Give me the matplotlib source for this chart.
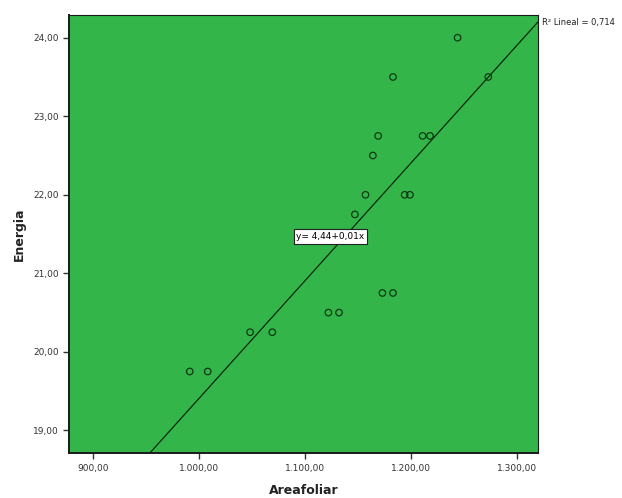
import numpy as np
import matplotlib.pyplot as plt

# data
areafoliar = [991, 1008, 1048, 1069, 1122, 1132, 1147, 1157, 1164, 1169,
              1173, 1183, 1183, 1194, 1199, 1211, 1218, 1244, 1273]
energia = [19.75, 19.75, 20.25, 20.25, 20.5, 20.5, 21.75, 22.0, 22.5, 22.75,
           20.75, 20.75, 23.5, 22.0, 22.0, 22.75, 22.75, 24.0, 23.5]

x_ticks = [900, 1000, 1100, 1200, 1300]
y_ticks = [19, 20, 21, 22, 23, 24]


def fmt_es(v):
    # spanish style: 1.000,00
    s = f"{v:,.2f}"
    return s.replace(",", "X").replace(".", ",").replace("X", ".")


x = np.array(areafoliar, dtype=float)
y = np.array(energia, dtype=float)
slope, intercept = np.polyfit(x, y, 1)
r2 = np.corrcoef(x, y)[0, 1] ** 2

fig = plt.figure(figsize=(6.22, 4.98), dpi=100)
ax = fig.add_axes([0.111, 0.090, 0.754, 0.880])
ax.set_facecolor('#33b54a')

ax.scatter(x, y, s=22, facecolors='none', edgecolors='#0d3a12', linewidths=0.9, zorder=3)

xlim = (877, 1320)
ylim = (18.71, 24.29)
xs = np.array(xlim)
ax.plot(xs, intercept + slope * xs, color='#0a2a0e', linewidth=0.9, zorder=2)
ax.set_xlim(xlim)
ax.set_ylim(ylim)

ax.set_xticks(x_ticks)
ax.set_xticklabels([fmt_es(v) for v in x_ticks])
ax.set_yticks(y_ticks)
ax.set_yticklabels([fmt_es(v) for v in y_ticks])
ax.tick_params(labelsize=6.5, colors='#333333', length=4, width=1)
for side in ['top', 'right']:
    ax.spines[side].set_color('#1a1a1a')
    ax.spines[side].set_linewidth(0.8)
for side in ['left', 'bottom']:
    ax.spines[side].set_color('#1a1a1a')
    ax.spines[side].set_linewidth(1.4)

ax.set_xlabel('Areafoliar', fontsize=9, fontweight='bold', color='#222222', labelpad=8)
ax.set_ylabel('Energia', fontsize=9, fontweight='bold', color='#222222', labelpad=5)

eq = f"y= {fmt_es(intercept)}+{fmt_es(slope)}x"
ax.text(1124, 21.47, eq, fontsize=6.5, ha='center', va='center', zorder=4,
        bbox=dict(boxstyle='square,pad=0.3', facecolor='white', edgecolor='#222222', linewidth=0.8))

fig.text(0.872, 0.955, "R² Lineal = " + f"{r2:.3f}".replace('.', ','), fontsize=6,
         ha='left', va='center', color='#222222')

fig.savefig('out.png', dpi=100, facecolor='white')
